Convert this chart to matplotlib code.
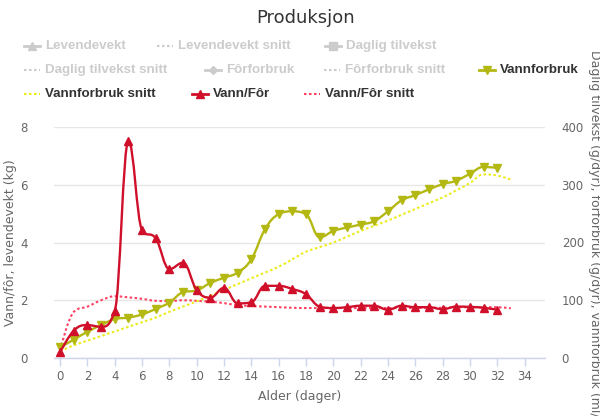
import numpy as np
import matplotlib
matplotlib.use('Agg')
from matplotlib import pyplot as plt
from matplotlib.path import Path
from matplotlib.patches import PathPatch
from matplotlib.lines import Line2D

# data
days = list(range(0, 33))
days_snitt = list(range(0, 34))

# Vann/Fôr (kg, left axis)
vann_for = [0.2, 0.95, 1.14, 1.08, 1.63, 7.52, 4.43, 4.14, 3.08, 3.3,
            2.35, 2.09, 2.43, 1.89, 1.93, 2.5, 2.5, 2.39, 2.21, 1.78,
            1.73, 1.76, 1.81, 1.81, 1.67, 1.81, 1.76, 1.76, 1.69, 1.78,
            1.77, 1.74, 1.67]
vann_for_snitt = [0.28, 1.6, 1.78, 2.0, 2.14, 2.1, 2.05, 1.98, 1.97, 2.0,
                  1.98, 1.95, 1.9, 1.83, 1.8, 1.78, 1.76, 1.74, 1.73, 1.73,
                  1.73, 1.73, 1.73, 1.73, 1.73, 1.73, 1.73, 1.74, 1.74, 1.75,
                  1.76, 1.76, 1.76, 1.72]

# Vannforbruk (right axis)
vannforbruk = [18.5, 32, 45.5, 57, 67.5, 70, 75.5, 85, 96, 114,
               117, 130, 139, 148, 171, 223, 249, 254, 249, 209,
               220, 226, 231, 237, 254, 273, 282, 292, 301, 307,
               319, 331, 329]
vannforbruk_snitt = [12, 22, 30, 38, 46, 54, 62, 70, 80, 89,
                     98, 108, 118, 128, 138, 148, 158, 171, 184, 192,
                     200, 210, 220, 229, 238, 248, 258, 268, 278, 290,
                     303, 318, 316, 309]

legend_items = [
    # label, color, marker, linestyle, active, symbol centre x(px), y(px)
    ('Levendevekt', '#cccccc', '^', '-', False, 32, 46),
    ('Levendevekt snitt', '#cccccc', None, ':', False, 165, 46),
    ('Daglig tilvekst', '#cccccc', 's', '-', False, 333, 46),
    ('Daglig tilvekst snitt', '#cccccc', None, ':', False, 32, 70),
    ('Fôrforbruk', '#cccccc', 'D', '-', False, 213, 70),
    ('Fôrforbruk snitt', '#cccccc', None, ':', False, 332, 70),
    ('Vannforbruk', '#b3b812', 'v', '-', True, 487, 70),
    ('Vannforbruk snitt', '#ecec1c', None, ':', True, 32, 94),
    ('Vann/Fôr', '#d0102b', '^', '-', True, 200, 94),
    ('Vann/Fôr snitt', '#ff4060', None, ':', True, 312, 94),
]

GREEN = '#b3b812'
YELLOW = '#ecec1c'
RED = '#d0102b'
PINK = '#ff4060'


def spline_path(xs, ys):
    # highcharts-like spline smoothing, drawn as bezier segments
    xs = np.asarray(xs, float)
    ys = np.asarray(ys, float)
    n = len(xs)
    lc = [(x, y) for x, y in zip(xs, ys)]
    rc = [(x, y) for x, y in zip(xs, ys)]
    sm, den = 1.5, 2.5
    for i in range(1, n - 1):
        x, y = xs[i], ys[i]
        lx, ly = xs[i - 1], ys[i - 1]
        nx, ny = xs[i + 1], ys[i + 1]
        lcx = (sm * x + lx) / den
        lcy = (sm * y + ly) / den
        rcx = (sm * x + nx) / den
        rcy = (sm * y + ny) / den
        if rcx != lcx:
            corr = (rcy - lcy) * (rcx - x) / (rcx - lcx) + y - rcy
            lcy += corr
            rcy += corr
        if lcy > ly and lcy > y:
            lcy = max(ly, y)
            rcy = 2 * y - lcy
        elif lcy < ly and lcy < y:
            lcy = min(ly, y)
            rcy = 2 * y - lcy
        if rcy > ny and rcy > y:
            rcy = max(ny, y)
            lcy = 2 * y - rcy
        elif rcy < ny and rcy < y:
            rcy = min(ny, y)
            lcy = 2 * y - rcy
        lc[i] = (lcx, lcy)
        rc[i] = (rcx, rcy)
    verts = [(xs[0], ys[0])]
    codes = [Path.MOVETO]
    for i in range(1, n):
        verts += [rc[i - 1], lc[i], (xs[i], ys[i])]
        codes += [Path.CURVE4] * 3
    return Path(verts, codes)


def draw_spline(ax, xs, ys, color, lw, ls='-', zorder=2):
    patch = PathPatch(spline_path(xs, ys), facecolor='none', edgecolor=color,
                      linewidth=lw, linestyle=ls, zorder=zorder,
                      capstyle='round' if ls == '-' else 'butt')
    ax.add_patch(patch)


fig = plt.figure(figsize=(6, 4.16), dpi=100)
ax = fig.add_axes([54 / 600, 1 - 358 / 416, (545 - 54) / 600, (358 - 127) / 416])
ax2 = ax.twinx()

ax.set_xlim(-0.45, 35.5)
ax.set_ylim(0, 8)
ax2.set_ylim(0, 400)

for a in (ax, ax2):
    for s in a.spines.values():
        s.set_visible(False)
ax.spines['bottom'].set_visible(True)
ax.spines['bottom'].set_color('#ccd6eb')
ax.spines['bottom'].set_linewidth(1)

ax.set_xticks(np.arange(0, 35, 2))
ax.tick_params(axis='x', colors='#ccd6eb', length=6, width=1, labelcolor='#666666',
               labelsize=8.5, pad=3)
ax.set_yticks([0, 2, 4, 6, 8])
ax.tick_params(axis='y', length=0, labelcolor='#666666', labelsize=8.5, pad=19)
ax2.set_yticks([0, 100, 200, 300, 400])
ax2.tick_params(axis='y', length=0, labelcolor='#666666', labelsize=8.5, pad=12)
ax.grid(axis='y', color='#e6e6e6', linewidth=1)
ax.set_axisbelow(True)

ax.set_xlabel('Alder (dager)', color='#666666', fontsize=9, labelpad=5)
ax.set_ylabel('Vann/fôr, levendevekt (kg)', color='#666666', fontsize=9, labelpad=2)

# right axis title, running off the bottom edge as in the original
fig.text(595 / 600, 1 - 50 / 416,
         'Daglig tilvekst (g/dyr), fôrforbruk (g/dyr), vannforbruk (ml/dyr)',
         rotation=270, ha='center', va='top', color='#666666', fontsize=9)

# dotted averages
draw_spline(ax2, days_snitt, vannforbruk_snitt, YELLOW, 1.5, ls=(0, (1.2, 1.2)), zorder=2)
draw_spline(ax, days_snitt, vann_for_snitt, PINK, 1.5, ls=(0, (1.2, 1.2)), zorder=2)

# main series
draw_spline(ax2, days, vannforbruk, GREEN, 1.7, zorder=3)
ax2.plot(days, vannforbruk, linestyle='none', marker='v', color=GREEN,
         markersize=5.5, zorder=4, clip_on=False)
draw_spline(ax2, days, [v * 50 for v in vann_for], RED, 1.7, zorder=5)
ax2.plot(days, [v * 50 for v in vann_for], linestyle='none', marker='^', color=RED,
         markersize=5.5, zorder=6, clip_on=False)

fig.text(306 / 600, 1 - 18 / 416, 'Produksjon', ha='center', va='center',
         fontsize=13, color='#333333')

# legend, laid out like the original
for label, color, marker, ls, active, px, py in legend_items:
    y = 1 - py / 416
    x0, x1 = (px - 8) / 600, (px + 8) / 600
    if ls == '-':
        fig.add_artist(Line2D([x0, x1], [y, y], color=color, linewidth=2,
                              transform=fig.transFigure))
        fig.add_artist(Line2D([(x0 + x1) / 2], [y], color=color, marker=marker,
                              markersize=5.5 if marker != 'D' else 4.2,
                              linestyle='none', transform=fig.transFigure))
    else:
        fig.add_artist(Line2D([x0, x1], [y, y], color=color, linewidth=1.5,
                              linestyle=(0, (1.2, 1.2)), transform=fig.transFigure))
    fig.text((px + 13) / 600, y, label, ha='left', va='center', fontsize=9.6,
             fontweight='bold', family='Liberation Sans',
             color='#333333' if active else '#cccccc')

fig.savefig('out.png', dpi=100)
